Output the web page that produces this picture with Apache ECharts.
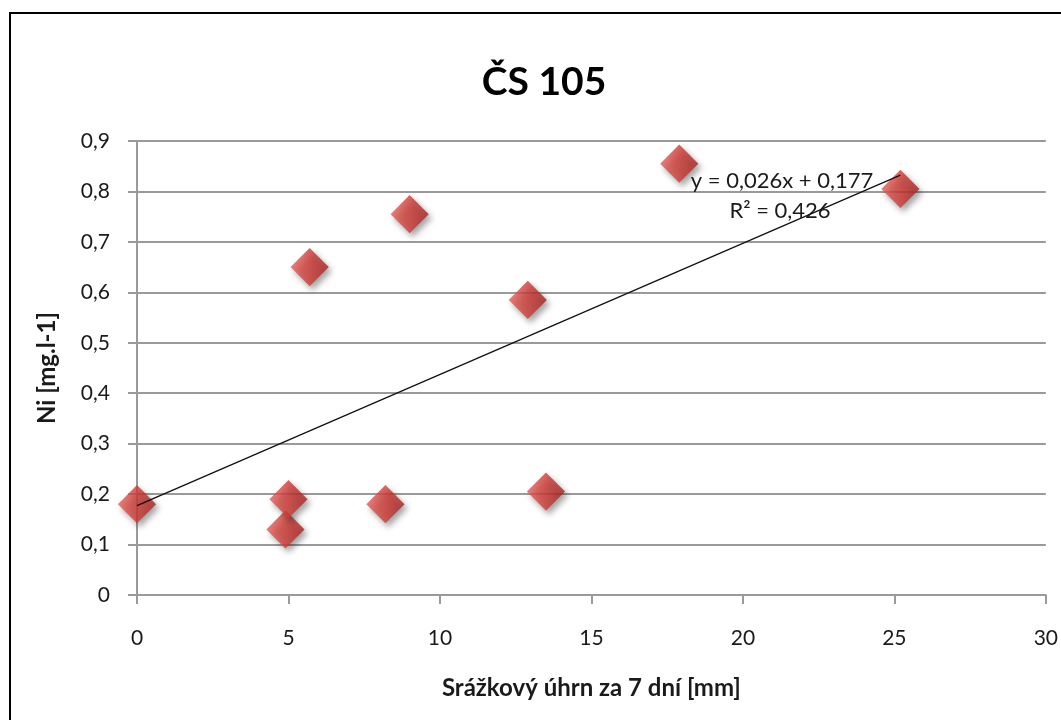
<!DOCTYPE html>
<html>
<head>
<meta charset="utf-8">
<script src="https://cdn.jsdelivr.net/npm/echarts@6/dist/echarts.min.js"></script>
<style>
  html, body { margin: 0; padding: 0; background: #fff; }
  #chart { width: 1061px; height: 720px; position: relative; }
  #frame { position: absolute; left: 9px; top: 12px; width: 1100px; height: 800px;
           border: 2px solid #000; box-sizing: border-box; pointer-events: none; }
</style>
</head>
<body>
<div id="chart"></div>
<div id="frame"></div>
<script>
// Precipitation over 7 days [mm] and measured nickel concentration
const rainfall = [0, 4.9, 5.0, 5.7, 8.2, 9.0, 12.9, 13.5, 17.9, 25.2];
const nickel   = [0.18, 0.13, 0.19, 0.65, 0.18, 0.755, 0.585, 0.205, 0.855, 0.805];

// Linear trend coefficients
const slope = 0.026;
const intercept = 0.177;
const r2 = 0.426;

const titleText = 'ČS 105';
const xName = 'Srážkový úhrn za 7 dní [mm]';
const yName = 'Ni [mg.l-1]';

const fmt = v => String(v).replace('.', ',');

const points = rainfall.map((x, i) => [x, nickel[i]]);
const xMin = Math.min(...rainfall), xMax = Math.max(...rainfall);
const trend = [[xMin, intercept + slope * xMin], [xMax, intercept + slope * xMax]];

const font = 'Lato, "Open Sans", sans-serif';
const chart = echarts.init(document.getElementById('chart'));
chart.setOption({
  animation: false,
  backgroundColor: '#fff',
  title: {
    text: titleText, left: 539, top: 58, textAlign: 'center',
    textStyle: { fontFamily: font, fontSize: 39, fontWeight: 'bold', color: '#000' }
  },
  grid: { left: 137, right: 13, top: 141, bottom: 125 },
  xAxis: {
    type: 'value', min: 0, max: 30, interval: 5,
    name: xName, nameLocation: 'middle', nameGap: 81,
    nameTextStyle: { fontFamily: font, fontSize: 24, fontWeight: 'bold', color: '#1a1a1a' },
    axisLine: { show: true, lineStyle: { color: '#9a9a9a', width: 2 } },
    axisTick: { show: true, length: 9, lineStyle: { color: '#9a9a9a', width: 2 } },
    axisLabel: { fontFamily: font, fontSize: 21, color: '#1a1a1a', margin: 33 },
    splitLine: { show: false }
  },
  yAxis: {
    type: 'value', min: 0, max: 0.9, interval: 0.1,
    name: yName, nameLocation: 'middle', nameGap: 78, nameRotate: 90,
    nameTextStyle: { fontFamily: font, fontSize: 24, fontWeight: 'bold', color: '#1a1a1a' },
    axisLine: { show: true, lineStyle: { color: '#9a9a9a', width: 2 } },
    axisTick: { show: true, inside: false, length: 9, lineStyle: { color: '#9a9a9a', width: 2 } },
    axisLabel: { fontFamily: font, fontSize: 21, color: '#1a1a1a', margin: 27,
                 formatter: v => fmt(Math.round(v * 10) / 10) },
    splitLine: { show: true, lineStyle: { color: '#9a9a9a', width: 2 } }
  },
  series: [
    {
      type: 'line', data: trend, symbol: 'none', z: 3,
      lineStyle: { color: '#111', width: 1.3 }
    },
    {
      type: 'scatter', data: points, symbol: 'rect', symbolSize: 27, symbolRotate: 45, z: 2,
      itemStyle: {
        color: new echarts.graphic.LinearGradient(0, 0, 1, 1, [
          { offset: 0, color: '#e35d57' },
          { offset: 0.5, color: '#d03c37' },
          { offset: 1, color: '#a8221f' }
        ]),
        shadowColor: 'rgba(0,0,0,0.45)', shadowBlur: 6, shadowOffsetX: 3, shadowOffsetY: 4
      }
    }
  ],
  graphic: [
    {
      type: 'text', x: 782, y: 181, z: 10,
      style: { text: 'y = ' + fmt(slope) + 'x + ' + fmt(intercept),
               textAlign: 'center', textVerticalAlign: 'middle',
               font: '22px ' + font, fill: '#1a1a1a' }
    },
    {
      type: 'text', x: 780, y: 211, z: 10,
      style: { text: 'R² = ' + fmt(r2),
               textAlign: 'center', textVerticalAlign: 'middle',
               font: '22px ' + font, fill: '#1a1a1a' }
    }
  ]
});
</script>
</body>
</html>
